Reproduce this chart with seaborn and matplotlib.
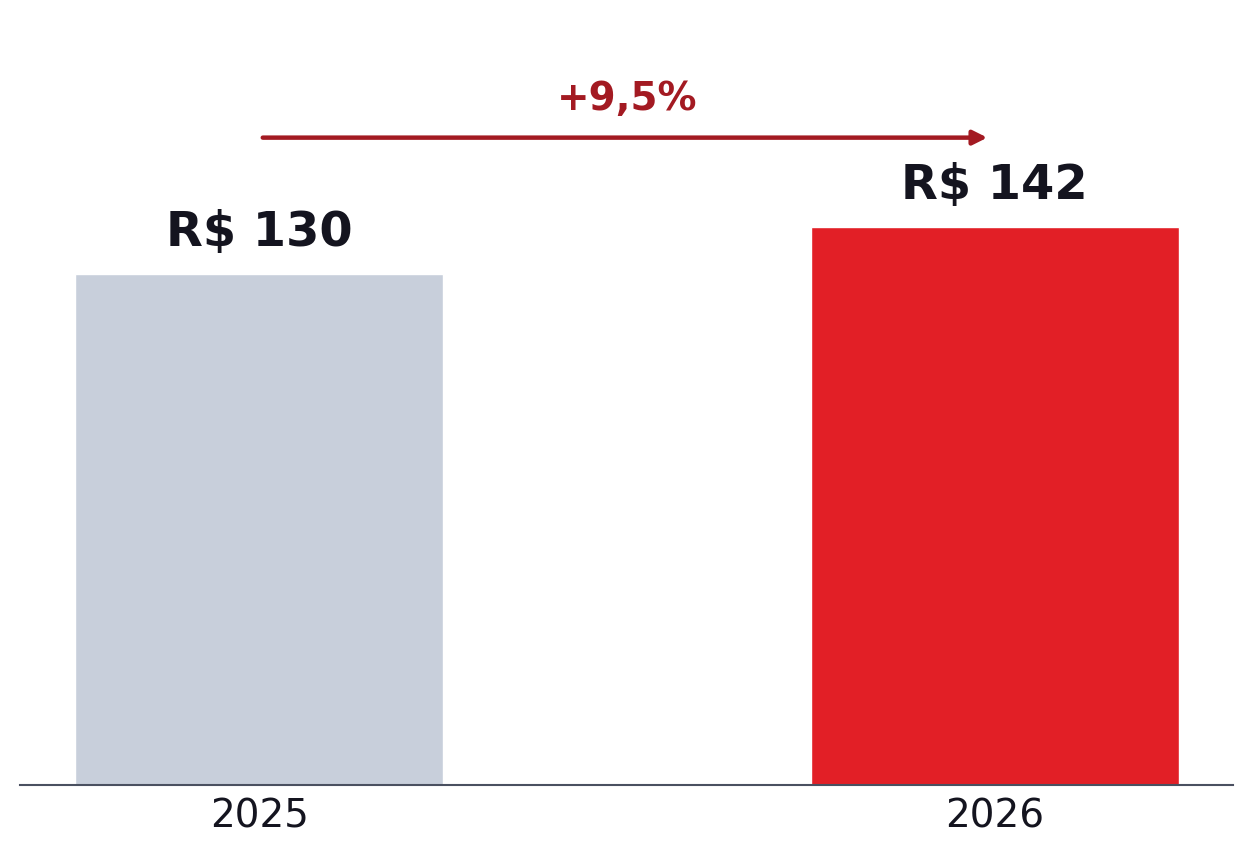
import matplotlib
matplotlib.use("Agg")
import matplotlib.pyplot as plt
import seaborn as sns
import pandas as pd

# dados
anos = ['2025', '2026']
valores = [130, 142]
rotulos = ['R$ 130', 'R$ 142']
variacao = '+9,5%'
cores = ['#C8CFDB', '#E21F26']

df = pd.DataFrame({'ano': anos, 'valor': valores})

sns.set_theme(style='white')
plt.rcParams['font.family'] = ['DejaVu Sans']

fig = plt.figure(figsize=(12.53, 8.53), dpi=100)
ax = fig.add_axes([20 / 1253, 67 / 853, 1213 / 1253, 766 / 853])

sns.barplot(data=df, x='ano', y='valor', hue='ano', palette=cores,
            width=0.5, legend=False, ax=ax, saturation=1)

ax.set_xlim(-0.325, 1.324)
ax.set_ylim(0, 195)

# rótulos de valor acima das barras
for i, (v, t) in enumerate(zip(valores, rotulos)):
    ax.annotate(t, xy=(i, v), xytext=(0, 21), textcoords='offset points',
                ha='center', va='baseline', fontsize=34.5, fontweight='bold',
                color='#14141F')

# seta de variação
ax.annotate('', xy=(0.99, 164.8), xytext=(0.005, 164.8),
            arrowprops=dict(arrowstyle='-|>,head_length=0.7,head_width=0.35',
                            color='#A31A22', lw=3.2, capstyle='round',
                            shrinkA=0, shrinkB=0))
ax.text(0.5, 172.2, variacao, ha='center', va='baseline', fontsize=28,
        fontweight='bold', color='#A31A22')

# eixos
for s in ['top', 'right', 'left']:
    ax.spines[s].set_visible(False)
ax.spines['bottom'].set_color('#4A5060')
ax.spines['bottom'].set_linewidth(1.5)
ax.set_yticks([])
ax.set_xlabel('')
ax.set_ylabel('')
ax.tick_params(axis='x', length=0, pad=8, labelsize=28, labelcolor='#14141F')

fig.savefig('out.png', dpi=100)
